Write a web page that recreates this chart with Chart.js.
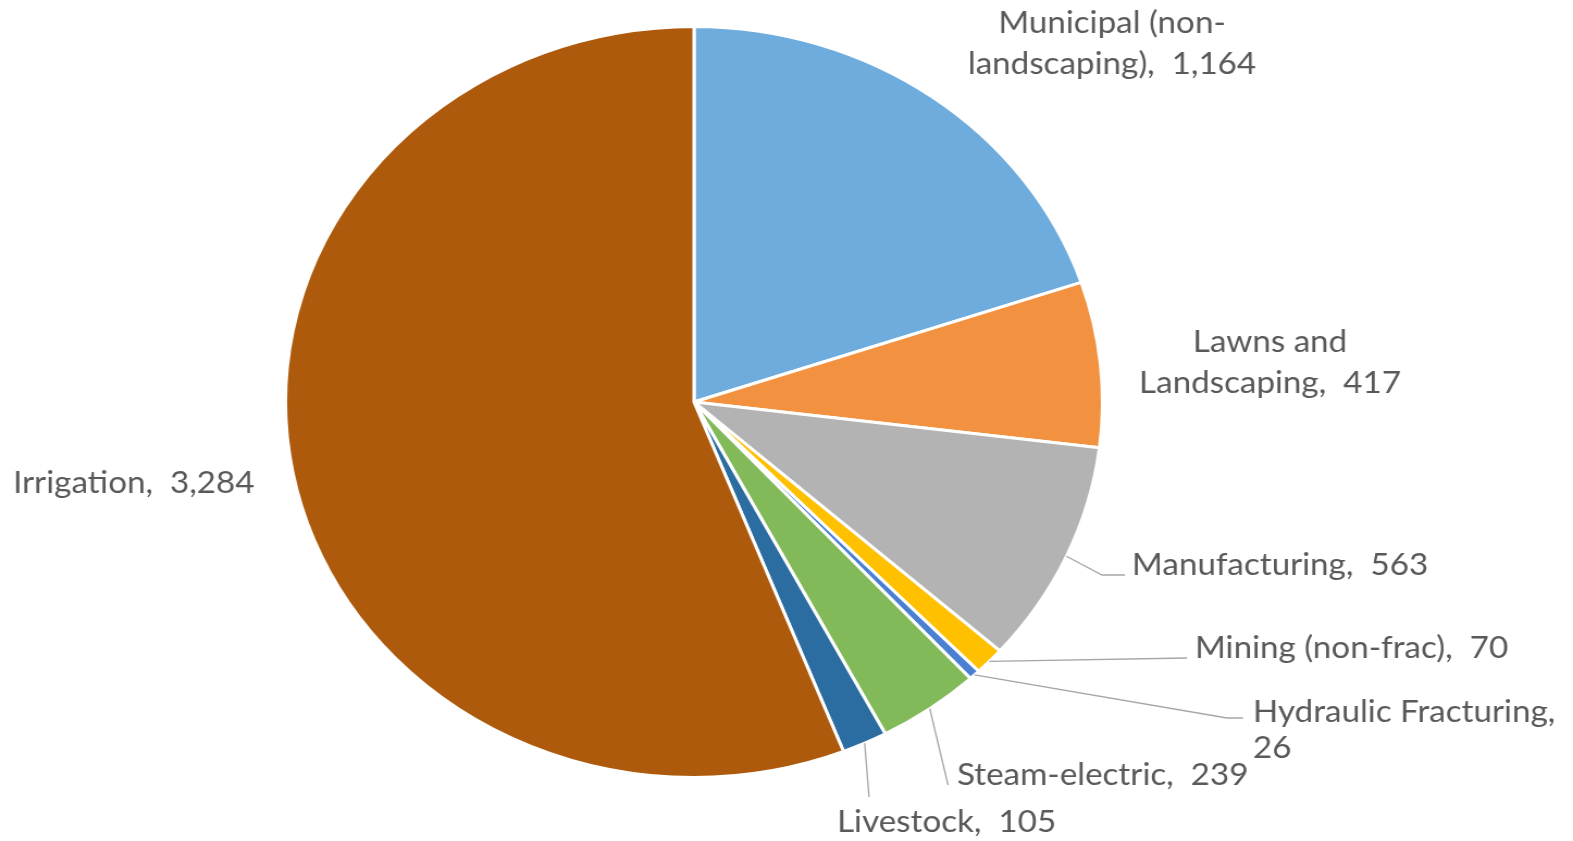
<!DOCTYPE html>
<html lang="en">
<head>
    <meta charset="UTF-8" />
    <title>Water use by sector</title>
    <script src="https://cdn.jsdelivr.net/npm/chart.js"></script>
    <style>
        html, body { margin: 0; padding: 0; background: #fff; overflow: hidden; }
        /* the reference pie is an ellipse, so the whole chart is stretched sideways */
        #wrap { width: 1446px; height: 841px; transform: scaleX(1.08783); transform-origin: 0 0; }
    </style>
</head>
<body>
    <div id="wrap"><canvas id="pie" width="1446" height="841"></canvas></div>
    <script>
        const SX = 1573 / 1446;

        const categories = ['Municipal (non-landscaping)', 'Lawns and Landscaping', 'Manufacturing',
            'Mining (non-frac)', 'Hydraulic Fracturing', 'Steam-electric', 'Livestock', 'Irrigation'];
        const values = [1164, 417, 563, 70, 26, 239, 105, 3284];
        const colors = ['#6eacdd', '#f29240', '#b3b3b3', '#ffc000', '#4a80d2', '#82ba5a', '#2b6da0', '#ad5a0c'];

        // label placement, in page pixels (x before the stretch is undone)
        const labelLayout = [
            { x: 1112, y: 33, align: 'center', br: 'Municipal (non-' },
            { x: 1270, y: 352, align: 'center', br: 'Lawns and ' },
            { x: 1132, y: 575, align: 'left', path: [[1102, 575], [1125, 575]] },
            { x: 1195, y: 658, align: 'left', path: [[1187, 658]] },
            { x: 1253, y: 722, align: 'left', br: 'Fracturing,', lh: 36, path: [[1227, 718], [1243, 718]] },
            { x: 957, y: 785, align: 'left', path: [[948, 785]] },
            { x: 837, y: 832, align: 'left', path: [[869, 797]] },
            { x: 13, y: 493, align: 'left' }
        ];

        const labelPlugin = {
            id: 'pieLabels',
            afterDatasetsDraw(chart) {
                const ctx = chart.ctx;
                const arcs = chart.getDatasetMeta(0).data;
                ctx.save();
                ctx.font = '30.5px Lato';
                ctx.fillStyle = '#595959';
                ctx.strokeStyle = '#a6a6a6';
                ctx.lineWidth = 1.3;
                arcs.forEach((arc, i) => {
                    const L = labelLayout[i];
                    const p = arc.getProps(['x', 'y', 'startAngle', 'endAngle', 'outerRadius'], true);
                    const mid = (p.startAngle + p.endAngle) / 2;
                    if (L.path) {
                        ctx.beginPath();
                        ctx.moveTo(p.x + Math.cos(mid) * p.outerRadius, p.y + Math.sin(mid) * p.outerRadius);
                        L.path.forEach(([x, y]) => ctx.lineTo(x / SX, y));
                        ctx.stroke();
                    }
                    const text = categories[i] + ',  ' + values[i].toLocaleString('en-US');
                    let lines = [text];
                    if (L.br) {
                        const k = text.indexOf(L.br) + L.br.length;
                        lines = [text.slice(0, k).trim(), text.slice(k).trim()];
                    }
                    ctx.textAlign = L.align;
                    ctx.textBaseline = 'alphabetic';
                    lines.forEach((s, j) => ctx.fillText(s, L.x / SX, L.y + j * (L.lh || 41)));
                });
                ctx.restore();
            }
        };

        new Chart(document.getElementById('pie').getContext('2d'), {
            type: 'pie',
            data: {
                labels: categories,
                datasets: [{
                    data: values,
                    backgroundColor: colors,
                    borderColor: '#ffffff',
                    borderWidth: 3
                }]
            },
            options: {
                responsive: false,
                animation: false,
                events: [],
                layout: { padding: { left: 261, right: 431, top: 25, bottom: 62 } },
                plugins: { legend: { display: false }, tooltip: { enabled: false } }
            },
            plugins: [labelPlugin]
        });
    </script>
</body>
</html>
